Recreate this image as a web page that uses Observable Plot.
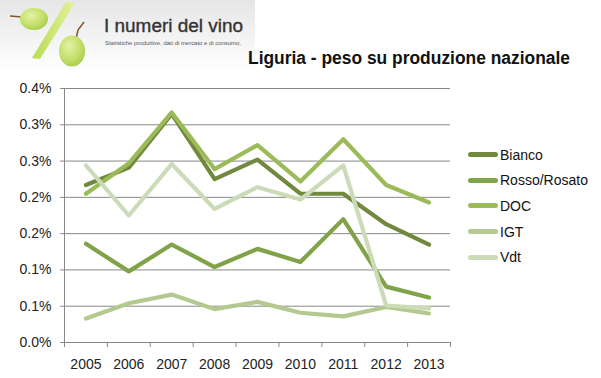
<!DOCTYPE html>
<html>
<head>
<meta charset="utf-8">
<script src="https://cdn.jsdelivr.net/npm/d3@7"></script>
<script src="https://cdn.jsdelivr.net/npm/@observablehq/plot@0.6"></script>
<style>
  html, body { margin: 0; padding: 0; background: #fff; }
  #wrap { position: relative; width: 601px; height: 378px; overflow: hidden; font-family: "Liberation Sans", Arial, sans-serif; }
  #deco { position: absolute; left: 0; top: 0; }
  #chart { position: absolute; left: 0; top: 0; }
  #legend { position: absolute; left: 468px; top: 142px; }
  .item { display: flex; align-items: center; height: 25.6px; font-size: 14px; color: #111; }
  .sw { width: 30px; height: 5px; border-radius: 3px; margin-right: 2px; }
</style>
</head>
<body>
<div id="wrap">
  <svg id="deco" width="601" height="80">
    <defs>
      <linearGradient id="bg" x1="0" y1="0" x2="0" y2="1">
        <stop offset="0" stop-color="#e6e6e6"/>
        <stop offset="1" stop-color="#ffffff"/>
      </linearGradient>
      <radialGradient id="grape" cx="0.4" cy="0.35" r="0.7">
        <stop offset="0" stop-color="#e4f2a6"/>
        <stop offset="0.6" stop-color="#c4e06a"/>
        <stop offset="1" stop-color="#a9c94a"/>
      </radialGradient>
      <linearGradient id="slash" x1="0" y1="0" x2="1" y2="0">
        <stop offset="0" stop-color="#b9db55"/>
        <stop offset="1" stop-color="#e2f29a"/>
      </linearGradient>
    </defs>
    <rect x="0" y="0" width="255" height="72" fill="url(#bg)"/>
    <path d="M10 16 L22 17" stroke="#7a5a2a" stroke-width="1.5"/>
    <ellipse cx="34" cy="19" rx="14" ry="11" fill="url(#grape)"/>
    <polygon points="66,2 75,3 40,59 32,58" fill="url(#slash)"/>
    <path d="M76 39 L78 30 L84 22" stroke="#7a5a2a" stroke-width="1.5" fill="none"/>
    <ellipse cx="72" cy="51" rx="13" ry="15.5" fill="url(#grape)"/>
    <text x="104" y="32" font-family="Liberation Sans, Arial, sans-serif" font-size="18" fill="#333" stroke="#333" stroke-width="0.35" textLength="139" lengthAdjust="spacingAndGlyphs">I numeri del vino</text>
    <text x="105" y="45" font-family="Liberation Sans, Arial, sans-serif" font-size="5.5" fill="#555" textLength="136" lengthAdjust="spacingAndGlyphs">Statistiche produttive, dati di mercato e di consumo,</text>
    <text x="248" y="64" font-family="Liberation Sans, Arial, sans-serif" font-weight="bold" font-size="18" fill="#111" textLength="322" lengthAdjust="spacingAndGlyphs">Liguria - peso su produzione nazionale</text>
  </svg>
  <div id="chart"></div>
  <div id="legend"></div>
</div>
<script>
// ---- data (percent of national production) ----
const years = [2005, 2006, 2007, 2008, 2009, 2010, 2011, 2012, 2013];
const seriesNames = ["Bianco", "Rosso/Rosato", "DOC", "IGT", "Vdt"];
const seriesColors = ["#71893f", "#80a34a", "#9bbb59", "#b3c98f", "#cbdbb7"];
const bianco = [0.217, 0.241, 0.315, 0.225, 0.252, 0.205, 0.205, 0.163, 0.135];
const rosso  = [0.136, 0.098, 0.135, 0.104, 0.129, 0.111, 0.170, 0.077, 0.062];
const doc    = [0.205, 0.247, 0.317, 0.239, 0.272, 0.222, 0.280, 0.217, 0.193];
const igt    = [0.033, 0.054, 0.066, 0.046, 0.056, 0.041, 0.036, 0.049, 0.040];
const vdt    = [0.244, 0.175, 0.246, 0.184, 0.214, 0.197, 0.244, 0.051, 0.047];
const yTicks = [0, 0.05, 0.10, 0.15, 0.20, 0.25, 0.30, 0.35];
const yLabels = ["0.0%", "0.1%", "0.1%", "0.2%", "0.2%", "0.3%", "0.3%", "0.4%"];

const seriesValues = [bianco, rosso, doc, igt, vdt];
const data = [];
seriesNames.forEach((name, s) => {
  years.forEach((yr, i) => data.push({series: name, year: yr, value: seriesValues[s][i]}));
});
const bounds = years.map(y => y - 0.5).concat([years[years.length - 1] + 0.5]);

const chart = Plot.plot({
  width: 601,
  height: 378,
  marginLeft: 64,
  marginRight: 151,
  marginTop: 88,
  marginBottom: 36,
  style: {fontFamily: "Liberation Sans, Arial, sans-serif", fontSize: "14px", color: "#222", background: "transparent", overflow: "visible"},
  x: {domain: [bounds[0], bounds[bounds.length - 1]]},
  y: {domain: [0, 0.35]},
  color: {domain: seriesNames, range: seriesColors},
  marks: [
    Plot.gridY(yTicks, {stroke: "#878787", strokeOpacity: 1, strokeWidth: 1}),
    Plot.ruleX([bounds[0]], {y1: 0, y2: 0.35, stroke: "#878787"}),
    Plot.ruleY([0], {stroke: "#878787"}),
    Plot.axisY(yTicks, {tickSize: 4, tickPadding: 9, stroke: "#878787", fill: "#222", tickFormat: d => yLabels[yTicks.indexOf(d)], label: null}),
    Plot.axisX(bounds, {tickSize: 5, stroke: "#878787", tickFormat: () => "", label: null}),
    Plot.axisX(years, {tickSize: 0, tickPadding: 17, fill: "#222", tickFormat: d => String(d), label: null}),
    ...seriesNames.map(name => Plot.line(data.filter(d => d.series === name), {x: "year", y: "value", stroke: "series", strokeWidth: 4.2, strokeLinejoin: "round", strokeLinecap: "round"}))
  ]
});
document.getElementById("chart").appendChild(chart);

const legend = document.getElementById("legend");
seriesNames.forEach((name, i) => {
  const item = document.createElement("div");
  item.className = "item";
  const sw = document.createElement("div");
  sw.className = "sw";
  sw.style.background = seriesColors[i];
  const lab = document.createElement("span");
  lab.textContent = name;
  item.appendChild(sw);
  item.appendChild(lab);
  legend.appendChild(item);
});
</script>
</body>
</html>
